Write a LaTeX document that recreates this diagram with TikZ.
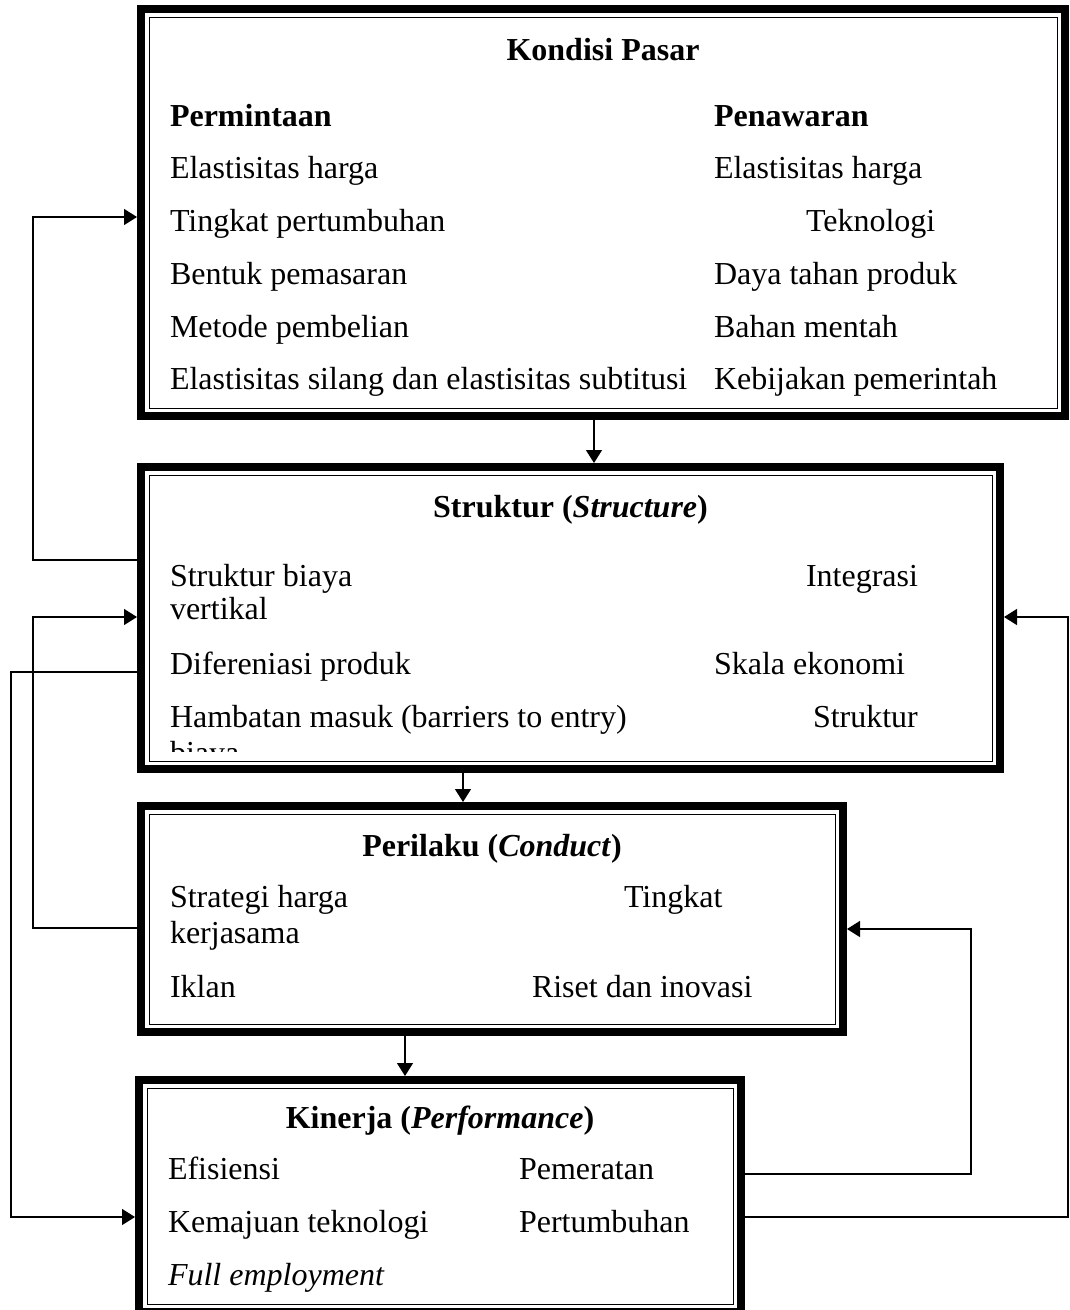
\documentclass[tikz,border=0pt]{standalone}
\usepackage{fontspec}
\setmainfont{Liberation Serif}
\usetikzlibrary{arrows.meta}

\newcommand{\ukuran}{\fontsize{32}{36}\selectfont}

\tikzset{
  kotak/.style={draw, line width=8pt, inner sep=0pt, outer sep=4pt},
  teks/.style={anchor=base west, inner sep=0pt, outer sep=0pt, font=\ukuran},
  tebal/.style={teks, font=\ukuran\bfseries},
  judul/.style={anchor=base, inner sep=0pt, outer sep=0pt, font=\ukuran\bfseries},
  panah/.style={line width=1.4pt, -{Triangle[length=13pt,width=16pt]}}
}

\begin{document}
\begin{tikzpicture}[x=1pt, y=-1pt]
        \useasboundingbox (0,0) rectangle (1070,1310);

        % Kotak
        \node[kotak, minimum width=924pt, minimum height=407pt] (pasar)    at (603,212.5) {};
        \node[kotak, minimum width=859pt, minimum height=302pt] (struktur) at (570.5,618) {};
        \node[kotak, minimum width=702pt, minimum height=226pt] (perilaku) at (492,919)   {};
        \node[kotak, minimum width=602pt, minimum height=232pt] (kinerja)  at (440,1196)  {};

        % Garis dalam
        \foreach \k in {pasar,struktur,perilaku,kinerja}
            \draw[line width=1pt] ([shift={(12pt,-12pt)}]\k.north west) rectangle ([shift={(-12pt,12pt)}]\k.south east);

        % Kondisi Pasar
        \node[judul] (j1) at (pasar.center |- 0,60) {Kondisi Pasar};
        \node[tebal] (p0) at (170,126) {Permintaan};
        \node[tebal] (q0) at (714,126) {Penawaran};
        \node[teks] (p1) at (170,178) {Elastisitas harga};
        \node[teks] (p2) at (170,231) {Tingkat pertumbuhan};
        \node[teks] (p3) at (170,284) {Bentuk pemasaran};
        \node[teks] (p4) at (170,337) {Metode pembelian};
        \node[teks] (p5) at (170,389) {Elastisitas silang dan elastisitas subtitusi};
        \node[teks] (q1) at (714,178) {Elastisitas harga};
        \node[teks] (q2) at (806,231) {Teknologi};
        \node[teks] (q3) at (714,284) {Daya tahan produk};
        \node[teks] (q4) at (714,337) {Bahan mentah};
        \node[teks] (q5) at (714,389) {Kebijakan pemerintah};

        % Struktur
        \node[judul] (j2) at (struktur.center |- 0,517) {Struktur (\textit{Structure})};
        \node[teks] (s1) at (170,586) {Struktur biaya};
        \node[teks] (s2) at (806,586) {Integrasi};
        \node[teks] (s3) at (170,619) {vertikal};
        \node[teks] (s4) at (170,674) {Difereniasi produk};
        \node[teks] (s5) at (714,674) {Skala ekonomi};
        \node[teks] (s6) at (170,727) {Hambatan masuk (barriers to entry)};
        \node[teks] (s7) at (813,727) {Struktur};
        \begin{scope}
            \clip (150,475) rectangle (990,751);
            \node[teks] (s8) at (170,763) {biaya};
        \end{scope}

        % Perilaku
        \node[judul] (j3) at (perilaku.center |- 0,856) {Perilaku (\textit{Conduct})};
        \node[teks] (c1) at (170,907) {Strategi harga};
        \node[teks] (c2) at (624,907) {Tingkat};
        \node[teks] (c3) at (170,943) {kerjasama};
        \node[teks] (c4) at (170,997) {Iklan};
        \node[teks] (c5) at (532,997) {Riset dan inovasi};

        % Kinerja
        \node[judul] (j4) at (kinerja.center |- 0,1128) {Kinerja (\textit{Performance})};
        \node[teks] (k1) at (168,1179) {Efisiensi};
        \node[teks] (k2) at (519,1179) {Pemeratan};
        \node[teks] (k3) at (168,1232) {Kemajuan teknologi};
        \node[teks] (k4) at (519,1232) {Pertumbuhan};
        \node[teks] (k5) at (168,1285) {\textit{Full employment}};

        % Titik belok
        \coordinate (a1) at (594,0);
        \coordinate (a2) at (463,0);
        \coordinate (a3) at (405,0);
        \coordinate (b1) at (33,560);   \coordinate (b2) at (33,217);
        \coordinate (b3) at (33,928);   \coordinate (b4) at (33,617);
        \coordinate (b5) at (11,672);   \coordinate (b6) at (11,1217);
        \coordinate (b7) at (971,1174); \coordinate (b8) at (971,929);
        \coordinate (b9) at (1068,1217);\coordinate (b10) at (1068,617);

        % Panah
        \draw[panah] (pasar.south -| a1) -- (struktur.north -| a1);
        \draw[panah] (struktur.south -| a2) -- (perilaku.north -| a2);
        \draw[panah] (perilaku.south -| a3) -- (kinerja.north -| a3);
        \draw[panah] (struktur.west |- b1) -- (b1) -- (b2) -- (pasar.west |- b2);
        \draw[panah] (perilaku.west |- b3) -- (b3) -- (b4) -- (struktur.west |- b4);
        \draw[panah] (struktur.west |- b5) -- (b5) -- (b6) -- (kinerja.west |- b6);
        \draw[panah] (kinerja.east |- b7) -- (b7) -- (b8) -- (perilaku.east |- b8);
        \draw[panah] (kinerja.east |- b9) -- (b9) -- (b10) -- (struktur.east |- b10);
    \end{tikzpicture}
\end{document}
